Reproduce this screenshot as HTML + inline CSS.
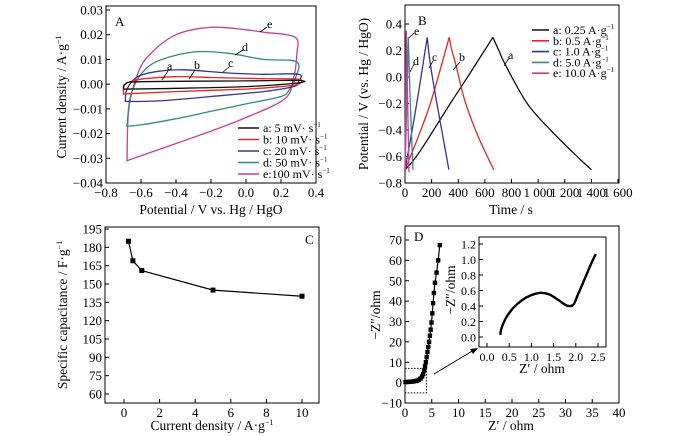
<!DOCTYPE html>
<html><head><meta charset="utf-8"><style>
html,body{margin:0;padding:0;background:#fff;}
svg{display:block;font-family:"Liberation Serif","Times New Roman",serif;}
text{fill:#000;}
</style></head><body>
<svg id="fig" width="700" height="437" viewBox="0 0 700 437" font-family="Liberation Serif, serif" xmlns="http://www.w3.org/2000/svg"></svg>
<script>
// ---------- Panel A data (CV loops: potential V, current A/g) ----------
const cvV_a=[-0.7,-0.69,-0.6,0,0.3,0.3,0,-0.4,-0.7];
const cvI_a=[-0.002,0,0.001,0.0013,0.0015,0.0005,-0.001,-0.0017,-0.002];
const cvV_b=[-0.7,-0.69,-0.6,-0.4,-0.2,0.1,0.3,0.3,0.2,0,-0.4,-0.7];
const cvI_b=[-0.004,0,0.002,0.003,0.0027,0.0022,0.002,0,-0.001,-0.002,-0.003,-0.004];
const cvV_c=[-0.69,-0.68,-0.62,-0.5,-0.35,-0.1,0.1,0.3,0.3,0.27,0.1,-0.2,-0.5,-0.69];
const cvI_c=[-0.007,-0.002,0.003,0.0052,0.0058,0.0045,0.004,0.004,0.001,-0.001,-0.003,-0.005,-0.0068,-0.007];
const cvV_d=[-0.68,-0.66,-0.6,-0.5,-0.3,-0.1,0.1,0.29,0.28,0.25,0.2,0,-0.2,-0.4,-0.6,-0.68];
const cvI_d=[-0.017,-0.005,0.004,0.0095,0.013,0.0125,0.010,0.009,0.002,-0.002,-0.005,-0.008,-0.011,-0.014,-0.0165,-0.017];
const cvV_e=[-0.68,-0.67,-0.62,-0.55,-0.4,-0.2,0,0.1,0.28,0.29,0.27,0.22,0,-0.2,-0.4,-0.6,-0.68];
const cvI_e=[-0.031,-0.01,0.004,0.012,0.020,0.023,0.022,0.021,0.019,0.012,0.002,-0.006,-0.0135,-0.019,-0.024,-0.029,-0.031];
// ---------- Panel B data (GCD: time s, potential V) ----------
const gcdT_a=[0,100,340,470,660,705,755,918,1093,1293,1400];
const gcdV_a=[-0.7,-0.58,-0.2,0,0.3,0.2,0.09,-0.2,-0.4,-0.6,-0.7];
const gcdT_b=[0,100,200,332,352,380,450,550,667];
const gcdV_b=[-0.7,-0.45,-0.17,0.3,0.2,0.1,-0.18,-0.45,-0.7];
const gcdT_c=[0,80,167,190,240,330];
const gcdV_c=[-0.7,-0.25,0.3,0.1,-0.2,-0.7];
const gcdT_d=[0,12,25,40,60];
const gcdV_d=[-0.7,-0.25,0.3,-0.2,-0.7];
const gcdT_e=[0,5,10,20,30];
const gcdV_e=[-0.7,-0.2,0.35,-0.2,-0.72];
// ---------- Panel C data ----------
const capX=[0.25,0.5,1,5,10];
const capY=[185,169,161,145,140];
// ---------- Panel D data ----------
const zRe=[0.1,0.4,0.8,1.2,1.6,2.0,2.3,2.6,2.9,3.2,3.4,3.6,3.75,3.9,4.05,4.2,4.35,4.5,4.65,4.8,4.95,5.1,5.25,5.4,5.6,5.9,6.2,6.5];
const zIm=[0.3,0.3,0.4,0.5,0.6,0.8,1.0,1.4,2.0,3.0,4.2,6,8,10,12.5,15,17.5,20,23,26,29.5,34,39,44,49,54,60,67.5];
const inRe=[0.3,0.32,0.37,0.45,0.6,0.8,1.0,1.2,1.4,1.6,1.75,1.85,1.95,2.05,2.2,2.35,2.45];
const inIm=[0.03,0.1,0.18,0.27,0.38,0.48,0.54,0.57,0.55,0.48,0.42,0.4,0.42,0.55,0.75,0.95,1.07];

const NS='http://www.w3.org/2000/svg';
const svg=document.getElementById('fig');
const TICK=13, TITLE=13.5;
function mk(tag,attrs,parent){const e=document.createElementNS(NS,tag);for(const k in attrs)e.setAttribute(k,attrs[k]);(parent||svg).appendChild(e);return e;}
function lin(d0,d1,r0,r1){return v=>r0+(v-d0)*(r1-r0)/(d1-d0);}
function smooth(p,closed){
  let d='M'+p[0][0].toFixed(1)+','+p[0][1].toFixed(1);
  const n=p.length;
  for(let i=0;i<n-1;i++){
    const p0=p[Math.max(0,i-1)],p1=p[i],p2=p[i+1],p3=p[Math.min(n-1,i+2)];
    const c1=[p1[0]+(p2[0]-p0[0])/6,p1[1]+(p2[1]-p0[1])/6];
    const c2=[p2[0]-(p3[0]-p1[0])/6,p2[1]-(p3[1]-p1[1])/6];
    d+='C'+c1.map(v=>v.toFixed(1))+' '+c2.map(v=>v.toFixed(1))+' '+p2.map(v=>v.toFixed(1));
  }
  return d+(closed?'Z':'');
}
function txt(s,x,y,anchor,size,name){
  const t=mk('text',{x:x,y:y,'text-anchor':anchor,'font-size':size});
  t.textContent=s;
  
  
  return t;
}
function frame(name,x0,y0,x1,y1){
  const r=mk('rect',{x:x0,y:y0,width:x1-x0,height:y1-y0,fill:'none',stroke:'#000','stroke-width':1});
  
  
}
function xAxis(pref,vals,labels,sx,yb,size){
  vals.forEach((v,i)=>{
    const l=mk('line',{x1:sx(v),x2:sx(v),y1:yb,y2:yb-4,stroke:'#000'});
    
    
    txt(labels[i],sx(v),yb+14,'middle',size,pref+'-x-tick-label');
  });
}
function yAxis(pref,vals,labels,sy,xl,size){
  vals.forEach((v,i)=>{
    const l=mk('line',{x1:xl,x2:xl+4,y1:sy(v),y2:sy(v),stroke:'#000'});
    
    
    txt(labels[i],xl-3,sy(v)+4.5,'end',size,pref+'-y-tick-label');
  });
}
function ytitle(s,sup,x,y,name){
  const t=mk('text',{x:0,y:0,'text-anchor':'middle','font-size':TITLE,transform:'translate('+x+','+y+') rotate(-90)'});
  t.textContent=s;
  if(sup){const ts=mk('tspan',{'font-size':8,dy:-5},t);ts.textContent=sup;}
  
  
}
function xtitle(s,sup,x,y,name){
  const t=mk('text',{x:x,y:y,'text-anchor':'middle','font-size':TITLE});
  t.textContent=s;
  if(sup){const ts=mk('tspan',{'font-size':8,dy:-5},t);ts.textContent=sup;}
  
  
}
function leader(x1,y1,x2,y2,name){
  const l=mk('line',{x1:x1,y1:y1,x2:x2,y2:y2,stroke:'#000','stroke-width':0.8});
  
  
}
const colors={a:'#111',b:'#e8261f',c:'#33339a',d:'#2e8a7e',e:'#c73c9f'};

// ================= Panel A =================
const ax=lin(-0.8,0.4,106,316), ay=lin(-0.04,0.03,183,10);
frame('panel-a-frame',106,6,316,183);
xAxis('panel-a',[-0.8,-0.6,-0.4,-0.2,0,0.2,0.4],['\u22120.8','\u22120.6','\u22120.4','\u22120.2','0.0','0.2','0.4'],ax,183,TICK);
yAxis('panel-a',[0.03,0.02,0.01,0,-0.01,-0.02,-0.03,-0.04],['0.03','0.02','0.01','0.00','\u22120.01','\u22120.02','\u22120.03','\u22120.04'],ay,106,TICK);
ytitle('Current density / A\u00b7g','\u22121',66,97,'panel-a-y-axis-title');
xtitle('Potential / V vs. Hg / HgO',null,211,214,'panel-a-x-axis-title');
txt('A',115,26,'start',13,'panel-a-letter');
const cvSets=[['a',cvV_a,cvI_a],['b',cvV_b,cvI_b],['c',cvV_c,cvI_c],['d',cvV_d,cvI_d],['e',cvV_e,cvI_e]];
cvSets.slice().reverse().forEach(s=>{
  const pts=s[1].map((v,i)=>[ax(v),ay(s[2][i])]);
  const p=mk('path',{d:smooth(pts,true),fill:'none',stroke:colors[s[0]],'stroke-width':1.3});
  
  
});
leader(162,80,168,71,'cv-label-a-leader');txt('a',167,70,'start',12,'cv-label-a');
leader(189,79,195,70,'cv-label-b-leader');txt('b',194,69,'start',12,'cv-label-b');
leader(223,72,229,67,'cv-label-c-leader');txt('c',228,67,'start',12,'cv-label-c');
leader(235,55,243,50,'cv-label-d-leader');txt('d',242,51,'start',12,'cv-label-d');
leader(260,32,267,27,'cv-label-e-leader');txt('e',267,28,'start',12,'cv-label-e');
const cvLeg=[['a','a:  5 mV\u00b7 s'],['b','b: 10 mV\u00b7 s'],['c','c: 20 mV\u00b7 s'],['d','d: 50 mV\u00b7 s'],['e','e:100 mV\u00b7 s']];
cvLeg.forEach((l,i)=>{
  const y=128+i*11.5;
  const ln=mk('line',{x1:238,x2:259,y1:y,y2:y,stroke:colors[l[0]],'stroke-width':1.6});
  
  
  const t=txt(l[1],263,y+4,'start',12,'cv-legend-entry-'+l[0]);
  const ts=mk('tspan',{'font-size':7,dy:-5},t);ts.textContent='\u22121';
});

// ================= Panel B =================
const bx=lin(0,1600,405,618), by=lin(-0.8,0.4,183,24);
frame('panel-b-frame',405,5,619,183);
xAxis('panel-b',[0,200,400,600,800,1000,1200,1400,1600],['0','200','400','600','800','1 000','1 200','1 400','1 600'],bx,183,TICK);
yAxis('panel-b',[0.4,0.2,0,-0.2,-0.4,-0.6,-0.8],['0.4','0.2','0.0','\u22120.2','\u22120.4','\u22120.6','\u22120.8'],by,405,TICK);
ytitle('Potential / V (vs. Hg / HgO)',null,368,94,'panel-b-y-axis-title');
xtitle('Time / s',null,511,214,'panel-b-x-axis-title');
txt('B',418,25,'start',13,'panel-b-letter');
const gcdSets=[['a',gcdT_a,gcdV_a],['b',gcdT_b,gcdV_b],['c',gcdT_c,gcdV_c],['d',gcdT_d,gcdV_d],['e',gcdT_e,gcdV_e]];
gcdSets.forEach(s=>{
  const ts=s[1],vs=s[2];
  const pk=vs.indexOf(Math.max(...vs));
  const up=ts.slice(0,pk+1).map((t,i)=>[bx(t),by(vs[i])]);
  const dn=ts.slice(pk).map((t,i)=>[bx(t),by(vs[pk+i])]);
  const p=mk('path',{d:smooth(up,false)+smooth(dn,false),fill:'none',stroke:colors[s[0]],'stroke-width':1.3});
  
  
});
leader(504,66,509,58,'gcd-label-a-leader');txt('a',508,59,'start',12,'gcd-label-a');
leader(453,70,460,62,'gcd-label-b-leader');txt('b',459,61,'start',12,'gcd-label-b');
leader(429,68,433,61,'gcd-label-c-leader');txt('c',432,61,'start',12,'gcd-label-c');
leader(410,72,414,64,'gcd-label-d-leader');txt('d',413,65,'start',12,'gcd-label-d');
leader(409,38,414,33,'gcd-label-e-leader');txt('e',414,35,'start',12,'gcd-label-e');
const gcdLeg=[['a','a: 0.25  A\u00b7g'],['b','b: 0.5  A\u00b7g'],['c','c: 1.0  A\u00b7g'],['d','d: 5.0  A\u00b7g'],['e','e: 10.0  A\u00b7g']];
gcdLeg.forEach((l,i)=>{
  const y=30+i*10.8;
  const ln=mk('line',{x1:532,x2:549,y1:y,y2:y,stroke:colors[l[0]],'stroke-width':1.6});
  
  
  const t=txt(l[1],553,y+4,'start',12,'gcd-legend-entry-'+l[0]);
  t.setAttribute('xml:space','preserve');
  const ts=mk('tspan',{'font-size':7,dy:-5},t);ts.textContent='\u22121';
});

// ================= Panel C =================
const cx=lin(0,10,124,302), cy=lin(60,195,394,229);
frame('panel-c-frame',105,227,319,403);
xAxis('panel-c',[0,2,4,6,8,10],['0','2','4','6','8','10'],cx,403,TICK);
yAxis('panel-c',[195,180,165,150,135,120,105,90,75,60],['195','180','165','150','135','120','105','90','75','60'],cy,105,TICK);
ytitle('Specific capacitance / F\u00b7g','\u22121',67,315,'panel-c-y-axis-title');
xtitle('Current density / A\u00b7g','\u22121',212,430,'panel-c-x-axis-title');
txt('C',305,244,'start',13,'panel-c-letter');
{
  const pl=mk('polyline',{points:capX.map((v,i)=>cx(v)+','+cy(capY[i])).join(' '),fill:'none',stroke:'#000','stroke-width':1.2});
  
  
  capX.forEach((v,i)=>{
    const m=mk('rect',{x:cx(v)-2.5,y:cy(capY[i])-2.5,width:5,height:5,fill:'#000'});
    
    
  });
}

// ================= Panel D =================
const dx=lin(0,40,405,619), dy=lin(-10,70,403,240);
frame('panel-d-frame',405,226,619,403);
xAxis('panel-d',[0,5,10,15,20,25,30,35,40],['0','5','10','15','20','25','30','35','40'],dx,403,TICK);
yAxis('panel-d',[70,60,50,40,30,20,10,0,-10],['70','60','50','40','30','20','10','0','\u221210'],dy,405,TICK);
ytitle('\u2212Z\u2033/ohm',null,380,315,'panel-d-y-axis-title');
xtitle('Z\u2032 / ohm',null,511,430,'panel-d-x-axis-title');
txt('D',414,241,'start',13,'panel-d-letter');
{
  const pl=mk('polyline',{points:zRe.map((v,i)=>dx(v)+','+dy(zIm[i])).join(' '),fill:'none',stroke:'#000','stroke-width':1.2});
  
  
  zRe.forEach((v,i)=>{
    const m=mk('rect',{x:dx(v)-2.2,y:dy(zIm[i])-2.2,width:4.4,height:4.4,fill:'#000'});
    
    
  });
  const bx2=mk('rect',{x:dx(0),y:dy(7),width:dx(4)-dx(0),height:dy(-5)-dy(7),fill:'none',stroke:'#000','stroke-dasharray':'1.5,1.5','stroke-width':1});
  
  
  const ar=mk('line',{x1:434,y1:374,x2:474,y2:350,stroke:'#000','stroke-width':1});
  
  
  const ah=mk('polygon',{points:'478,348 470,349 473,354',fill:'#000'});
  
  
}
// inset
const ix=lin(0,2.5,487,598), iy=lin(0,1.2,337,244);
frame('inset-frame',479,237,606,347);
xAxis('inset',[0,0.5,1,1.5,2,2.5],['0.0','0.5','1.0','1.5','2.0','2.5'],ix,347,12);
yAxis('inset',[1.2,1.0,0.8,0.6,0.4,0.2,0],['1.2','1.0','0.8','0.6','0.4','0.2','0.0'],iy,479,12);
ytitle('\u2212Z\u2033/ohm',null,455,290,'inset-y-axis-title');
xtitle('Z\u2032 / ohm',null,542,373,'inset-x-axis-title');
{
  const pts=inRe.map((v,i)=>[ix(v),iy(inIm[i])]);
  const p=mk('path',{d:smooth(pts,false),fill:'none',stroke:'#000','stroke-width':2.4});
  
  
}
</script>
</body></html>
